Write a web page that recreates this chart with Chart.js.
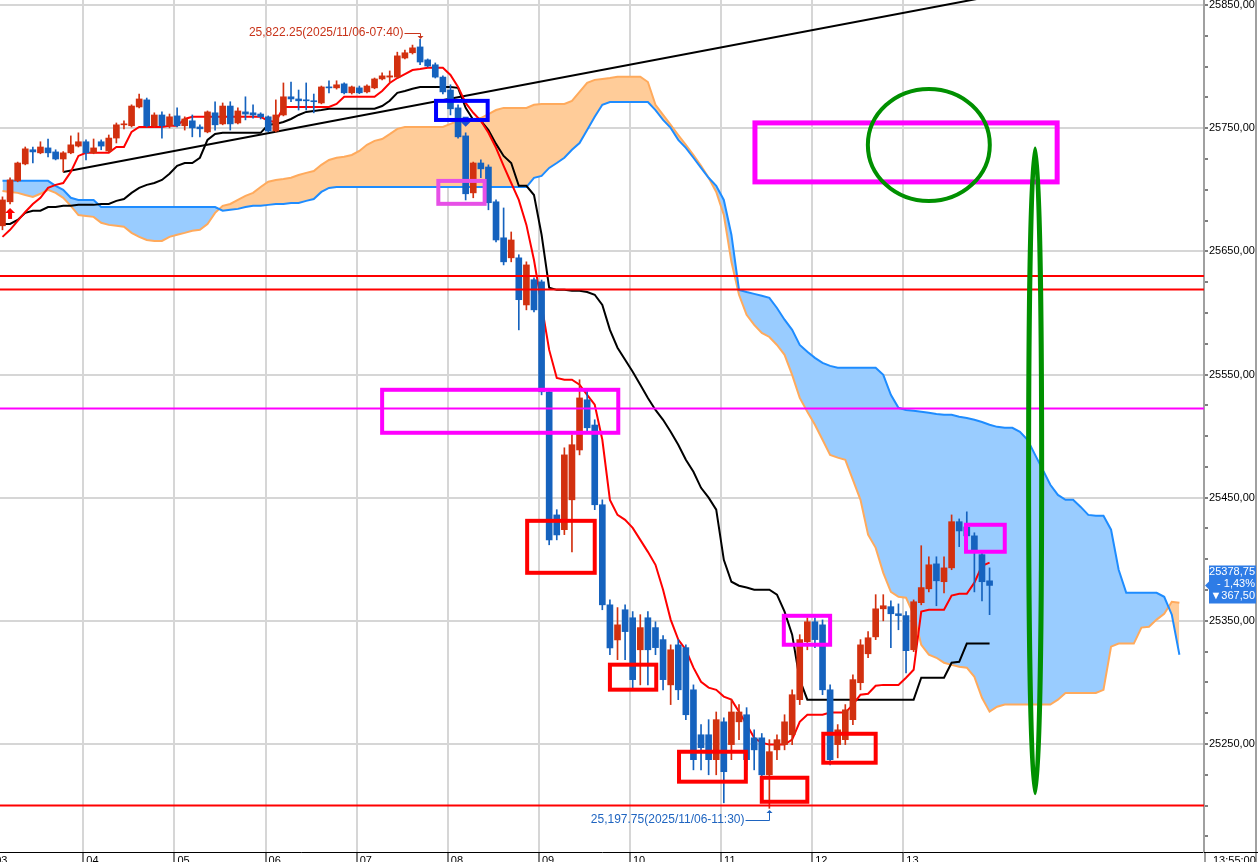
<!DOCTYPE html>
<html lang="ko">
<head>
<meta charset="utf-8">
<title>5분봉 일목균형표</title>
<script src="https://cdn.jsdelivr.net/npm/chart.js@4.4.1/dist/chart.umd.min.js"></script>
<style>
  html, body { margin: 0; padding: 0; background: #ffffff; overflow: hidden; }
  #box { position: relative; width: 1258px; height: 862px; }
</style>
</head>
<body>
<div id="box"><canvas id="chart" width="1258" height="862"></canvas></div>
<script>
// ==================== DATA ====================
// slot = 5-minute bar counted from 03:00 (slot 0). first bar on screen = 03:05
const firstSlot = 1;

// hour ticks of the time axis
const hourLabels = ["03", "04", "05", "06", "07", "08", "09", "10", "11", "12", "13"];
const hourSlots = [0, 12, 24, 36, 48, 60, 72, 84, 96, 108, 120];

// labelled prices on the right axis
const priceLabels = [25250, 25350, 25450, 25550, 25650, 25750, 25850];

// candles 03:05 -> 13:55
const opens = [25670.75,25690.25,25707.25,25721,25732.5,25730,25734,25730.75,25725,25730,
25735.5,25739,25730,25739,25731.5,25742,25752.75,25752,25767.25,25773,
25752,25760.75,25752,25760,25752,25756,25751,25747,25762.5,25753.5,
25768,25754.25,25763.25,25762.5,25761.5,25759.25,25747.75,25760.75,25775.5,25773.75,
25773,25772.25,25770.5,25783.5,25782.75,25786,25778.75,25782.75,25779.5,25782.75,
25790,25791.5,25791.5,25807,25811.25,25816,25805.5,25801.5,25791.5,25781,
25766.5,25743.75,25697.5,25721.75,25718.5,25690.25,25661,25644.75,25644.75,25606.5,
25627,25625.25,25536,25436,25424,25448.25,25488.75,25529.5,25509,25444.25,
25363,25334.5,25359,25352.5,25326.5,25352.5,25344.5,25334.75,25298,25330.5,
25328.25,25294,25257.5,25257.5,25237.25,25268,25249.5,25268,25273.75,25255,
25255,25225,25245.25,25249.5,25257.5,25286,25333,25349.25,25346.75,25294,
25249.5,25253.5,25269.75,25299.75,25323.25,25337,25359.75,25361.5,25355.75,25354.25,
25326.5,25364.75,25376,25396.25,25381.75,25393,25430.5,25426.25,25419,25403.75,
25382.5];

const highs = [25694.25,25709.75,25722.5,25734.75,25734.75,25739,25741.25,25732.5,25731,25743.75,
25746.25,25740.5,25741.25,25740.5,25744.5,25754.25,25756,25769,25777.75,25774.5,
25762.5,25763.25,25761.5,25766.5,25759.25,25760.75,25752.75,25764,25771.5,25770.5,
25771.5,25766.5,25775.5,25769,25762.5,25760,25773,25786.75,25787.5,25781,
25786.75,25777.75,25784.25,25788.5,25788.5,25786.75,25784.25,25784.25,25785.25,25790.75,
25795,25796.5,25811.75,25813.5,25817.5,25822.25,25806.25,25803,25792.5,25785.25,
25769,25746.25,25722.5,25724.25,25720.25,25691.75,25685.25,25665.75,25647.25,25641.5,
25628.5,25626.75,25537.5,25440.25,25490.5,25501,25545.75,25537.5,25513.25,25448.25,
25367,25360.75,25363,25357.5,25355,25357.5,25349.25,25338,25330.5,25334.75,
25330.5,25298,25265.75,25269.75,25276,25271.25,25286,25282,25279.5,25261.5,
25258.5,25253.5,25257.5,25273.75,25294,25338.75,25352.5,25352.5,25350.75,25298,
25265.75,25282,25306.25,25334.75,25341.25,25371.25,25371.25,25366.25,25363.75,25357.5,
25367,25411,25402,25402,25402,25436,25432.75,25438.5,25421.5,25406.25,
25393];

const lows = [25667.5,25688.5,25706.5,25720.25,25721.75,25729.25,25726.75,25724.25,25714.5,25729.25,
25734.75,25724.25,25729.25,25732.5,25730.75,25738,25749.5,25751,25766.5,25751,
25751,25742,25750.25,25751,25748.5,25743,25743,25746.25,25748.5,25752.75,
25748.5,25753.5,25756.75,25758.25,25757.5,25747,25747,25760,25771.5,25764.75,
25764.75,25762.5,25769.75,25778.75,25781.75,25777.75,25777.75,25778,25778.75,25782,
25789.25,25787.5,25790.75,25806.25,25810.25,25801.5,25799.75,25790.75,25777.75,25760.75,
25742,25691.75,25693.5,25709.75,25683.75,25657.75,25639,25641.5,25586.25,25602.5,
25600.75,25533.5,25411.75,25415.75,25420,25406,25484.75,25503.5,25440.25,25359,
25322.5,25318.5,25318.5,25294,25298,25298,25322.5,25294,25282,25286,
25269.75,25229,25229,25225,25225,25202.25,25237.25,25253.5,25229,25229,
25222.75,25197.75,25237.25,25245.25,25249.5,25282,25326.5,25328.25,25290,25233,
25238.75,25249.5,25265.75,25294,25320,25334.75,25350,25328.25,25342.75,25307.75,
25325,25363,25373.5,25362.25,25372.75,25391.5,25410.25,25415.75,25373.5,25366.25,
25355];

const closes = [25691.75,25708,25721.75,25733.25,25730.75,25734.75,25730,25725,25730,25736.5,
25739,25730,25734,25735.5,25742,25752.75,25753.5,25768,25773.75,25752,
25760.75,25752,25759.25,25752,25757.5,25750.25,25749.5,25763.25,25752.75,25768,
25753.5,25764,25761.5,25760.75,25759.25,25747.75,25760.75,25775.5,25773.75,25772.25,
25772.25,25771.5,25783.5,25782.75,25785.25,25778.75,25783.5,25778.75,25784.25,25790,
25792.5,25792.5,25808.75,25811.25,25815.25,25803.75,25800.5,25791.5,25779.5,25765.75,
25743,25696.75,25721.75,25717,25689.5,25659.25,25641.5,25659.25,25610.75,25639,
25602.5,25536,25415.75,25419.75,25484.75,25493,25531,25506.75,25444.25,25363,
25328,25346.75,25341.25,25302.25,25344.5,25326.5,25328.25,25302.25,25326.5,25294,
25273.75,25237.25,25247,25237.25,25269.75,25227.5,25276,25276,25237.25,25245.25,
25225,25243.75,25253.5,25268,25290,25334.75,25349.25,25334.75,25294,25237.25,
25261.5,25277.75,25302.25,25330.5,25336.25,25359.75,25362.25,25355.75,25354.25,25325.75,
25365.5,25377,25395.5,25382.5,25393,25430.5,25423,25419,25407.75,25381.75,
25378.75];

// 전환선 (red)
const tenkan = [25661.75,25667.5,25674.75,25682,25688.5,25693.5,25701.5,25704,25705.5,25714.5,
25727.5,25730,25730,25730,25730,25734.75,25734.75,25747,25751,25751,
25751,25751,25752,25752,25757.5,25759.25,25759.25,25759.25,25759.25,25759.25,
25759.25,25759.25,25759.25,25759.25,25759.25,25756,25755,25767.25,25767.25,25767.25,
25767.25,25767.25,25767.25,25767.25,25769.75,25775.5,25775.5,25775.5,25775.5,25775.5,
25780.25,25786.75,25790.75,25794,25797.25,25798,25799,25799,25799,25793.25,
25783.5,25770.5,25762.5,25756,25746.25,25734,25719.5,25705.5,25691.75,25671.5,
25643,25606.5,25570,25547.25,25545.75,25545.75,25541.75,25533.5,25525.5,25497,
25448.25,25436,25432,25425.5,25415.75,25406,25395.5,25375.25,25351,25334.75,
25326.5,25312,25300.5,25295.75,25294,25288.5,25286,25276.25,25265.75,25255,
25251,25249.5,25249.5,25249.5,25253.5,25268,25273.75,25273.75,25273.75,25275.5,
25275.5,25275.5,25282,25290,25290.75,25297.25,25298,25298,25298,25303.75,
25310.25,25357.5,25359,25359,25359,25370.5,25372,25372,25381,25394.75,
25397.25];

// 기준선 (black)
const kijun = [25672.25,25672.25,25675.5,25681.25,25683,25683,25686,25686,25687,25687,
25687.75,25687.75,25687.75,25688.5,25688.5,25691,25692.5,25697.5,25701.5,25704,
25705.5,25708,25713,25719.5,25721.75,25721.75,25726,25740.5,25745.25,25746.25,
25746.25,25746.25,25746.25,25746.25,25746.25,25752.75,25753.5,25755,25757.5,25760.75,
25763.25,25764,25764.75,25765.75,25765.75,25765.75,25765.75,25765.75,25765.75,25765.75,
25768,25772.25,25778.75,25780.25,25782,25783.5,25783.5,25783.5,25783.5,25783.5,
25782.75,25766.5,25756.75,25756,25748.5,25737.25,25727.5,25721.75,25703.25,25703.25,
25695.75,25663.5,25620.5,25618.75,25618.75,25618,25618,25617,25614.75,25606.5,
25586.25,25571.75,25562,25552.25,25541.75,25531,25521.25,25513.25,25503.5,25493,
25480.75,25471,25458,25450,25440.25,25399.5,25381.75,25378.5,25377,25375.25,
25375.25,25375.25,25371.25,25357.5,25338.75,25302.25,25286,25286,25286,25286,
25286,25286,25286,25286,25286,25286,25286,25286,25286,25286,
25286,25303.75,25303.75,25303.75,25303.75,25316,25316.75,25331.5,25331.5,25331.5,
25331.5];

// 선행스팬 (orange) 03:05 -> 16:05
const spanA = [25699,25698.25,25697.5,25695.75,25694.25,25696.75,25700,25697.5,25693.5,25687,
25679.5,25678.75,25678,25673.25,25671.5,25670.75,25670,25665,25661.75,25659.25,
25658.5,25658.5,25661.75,25663.5,25665,25666.75,25667.5,25672.25,25681.25,25687,
25688.5,25691.75,25695,25697.5,25702.25,25706.5,25708,25708.75,25709.75,25712,
25713.75,25715.25,25720.25,25724.25,25726,25726.75,25728.25,25731.5,25736.5,25739.75,
25741.25,25745.25,25749.5,25751,25751,25751,25751,25751,25751,25753.5,
25756,25756,25757.5,25758.25,25761.5,25764.75,25766.5,25766.5,25766.5,25766.5,
25769,25769.75,25769.75,25769.75,25769.75,25772.25,25779.5,25786.75,25789.25,25790,
25790.75,25791.75,25791.75,25791.75,25791.75,25787.5,25769,25760.75,25752.75,25744.5,
25736.5,25728.25,25719.5,25709.75,25698.25,25679.5,25641.5,25614.75,25598.5,25590.25,
25583.75,25580.5,25574,25566,25549.75,25531,25519.75,25509.25,25497,25484.75,
25482.5,25480.75,25464.5,25448.25,25420,25409.25,25389,25373.5,25369.5,25368.75,
25355,25330.5,25322.5,25320,25316,25314.25,25312.75,25312,25304.5,25287.5,
25276.25,25280.25,25282,25282,25282,25282,25282,25282,25282,25286,
25291.5,25291.5,25291.5,25291.5,25291.5,25294,25329,25331.5,25331.5,25331.5,
25344.5,25345.25,25351,25355.75,25365.5,25364.75];

// 선행스팬 (blue) 03:05 -> 16:05
const spanB = [25707.25,25707.25,25707.25,25707.25,25707.25,25707.25,25707.25,25703.25,25700,25693.5,
25691.75,25691.75,25691.75,25686,25686,25686,25686,25686,25686,25686,
25686,25686,25686,25686,25686,25686,25686,25686,25686,25683,
25683.75,25684.5,25686,25687,25687,25687.75,25688.5,25688.5,25689.25,25689.25,
25691,25692.5,25698.25,25701.5,25702.25,25702.25,25702.25,25702.25,25702.25,25702.25,
25702.25,25702.25,25702.25,25702.25,25702.25,25702.25,25702.25,25702.25,25702.25,25702.25,
25702.25,25702.25,25702.25,25702.25,25702.25,25702.25,25702.25,25702.25,25702.25,25702.25,
25709.75,25711.25,25717.75,25721.75,25726,25732.5,25738,25748.5,25759.25,25769,
25771.25,25771.25,25771.25,25771.25,25771.25,25771.25,25764.75,25756.75,25750.25,25740.5,
25734,25726,25717.75,25709.75,25703.25,25691.75,25663.5,25618.75,25617,25615.5,
25614,25612.25,25604,25594.5,25586.25,25574,25568.5,25563.5,25559.5,25557,
25555.5,25555.5,25555.5,25555.5,25555.5,25555.5,25549.75,25533.5,25523,25521.25,
25520.5,25519.75,25519,25518,25517.25,25517.25,25515.75,25514.75,25513.25,25511.5,
25509.25,25507.5,25506.75,25506.75,25503.5,25497,25484.75,25472.75,25460.5,25452.25,
25448.25,25448.25,25442.5,25436,25435.25,25435.25,25424,25391.5,25372.75,25372.75,
25372.75,25372.75,25372.75,25369.5,25355,25322.5];

// hand-drawn trend line: [slot, price]
const trendFrom = [9, 25714.5];
const trendTo = [140, 25867.4];

// horizontal levels
const redLevels = [25630, 25619, 25200];
const magentaLevels = [25522.5];

// last price box
const lastPrice = 25378.75;
const changePct = "- 1,43%";
const changePts = "▼367,50";

// ==================== STYLE ====================
const UP = "#D2300F";
const DOWN = "#1562BE";
const GRID = "#D6D6D6";
const FONT = '"Liberation Sans", Arial, sans-serif';
const gridLead = 0.356;       // hour grid line sits a bit left of its bar
const xMin = 0.674, xMax = 159.24;
const yMin = 25162.3, yMax = 25854.1;

Chart.defaults.font.family = FONT;
Chart.defaults.font.size = 11;
Chart.defaults.color = "#000";

const toSeries = (arr, start) => arr.map((v, i) => ({ x: start + i, y: v }));
const fmtPrice = v => v.toFixed(2).replace(".", ",");

const candleColors = opens.map((o, i) => closes[i] >= o ? UP : DOWN);
const wickData = lows.map((l, i) => ({ x: firstSlot + i, y: [l, highs[i]] }));
const bodyData = opens.map((o, i) => ({ x: firstSlot + i, y: [o, closes[i]] }));

const levelLine = (v, color, order) => ({
    type: "line",
    data: [{ x: -5, y: v }, { x: 170, y: v }],
    borderColor: color,
    borderWidth: 2,
    pointRadius: 0,
    order: order
});

// ==================== ANNOTATIONS (in slot / price units) ====================
const drawnBoxes = [
    { t: [100.1, 139.9], v: [25754.3, 25706.4], color: "#FF00FF", width: 5 },
    { t: [58.1, 64.9], v: [25772.2, 25756.7], color: "#0000FF", width: 4 },
    { t: [58.4, 64.5], v: [25707.2, 25688.6], color: "#E650E6", width: 4 },
    { t: [51.0, 82.1], v: [25537.6, 25502.7], color: "#FF00FF", width: 4 },
    { t: [70.1, 79.0], v: [25431.2, 25389.0], color: "#FF0000", width: 4 },
    { t: [81.0, 87.1], v: [25314.4, 25294.1], color: "#FF0000", width: 4 },
    { t: [90.1, 98.9], v: [25243.7, 25219.4], color: "#FF0000", width: 4 },
    { t: [101.0, 107.0], v: [25222.6, 25203.1], color: "#FF0000", width: 4 },
    { t: [109.1, 116.0], v: [25258.3, 25234.8], color: "#FF0000", width: 4 },
    { t: [103.9, 110.0], v: [25354.1, 25330.6], color: "#FF00FF", width: 4 },
    { t: [127.9, 133.0], v: [25428.0, 25406.1], color: "#FF00FF", width: 4 }
];

const drawnEllipses = [
    { t: 123.0, v: 25736.4, rt: 8.03, rv: 45.5, color: "#009000", width: 4 },
    { t: 137.0, v: 25471.8, rt: 0.86, rv: 261.4, color: "#009000", width: 5 }
];

// ==================== PLUGIN : DRAWINGS, NOTES, AXIS EXTRAS ====================
const extras = {
    id: "extras",
    afterDatasetsDraw(chart) {
        const { ctx, chartArea: a } = chart;
        const x = chart.scales.x, y = chart.scales.y;

        ctx.save();
        ctx.beginPath();
        ctx.rect(a.left, a.top, a.right - a.left, a.bottom - a.top);
        ctx.clip();

        // buy / sell markers
        const bx = x.getPixelForValue(2), by = y.getPixelForValue(lows[2 - firstSlot]) + 4;
        ctx.fillStyle = "#FF0000";
        ctx.beginPath();
        ctx.moveTo(bx, by); ctx.lineTo(bx + 5, by + 5); ctx.lineTo(bx - 5, by + 5); ctx.closePath(); ctx.fill();
        ctx.fillRect(bx - 2, by + 5, 4, 6);

        const sx = x.getPixelForValue(62), sy = y.getPixelForValue(highs[62 - firstSlot]) - 6;
        ctx.fillStyle = "#1A50D0";
        ctx.beginPath();
        ctx.moveTo(sx - 3, sy - 10); ctx.lineTo(sx + 3, sy - 10); ctx.lineTo(sx + 3, sy - 5);
        ctx.lineTo(sx + 5, sy - 5); ctx.lineTo(sx, sy); ctx.lineTo(sx - 5, sy - 5); ctx.lineTo(sx - 3, sy - 5);
        ctx.closePath(); ctx.fill();

        // hand-drawn boxes
        drawnBoxes.forEach(b => {
            const x0 = x.getPixelForValue(b.t[0]), x1 = x.getPixelForValue(b.t[1]);
            const y0 = y.getPixelForValue(b.v[0]), y1 = y.getPixelForValue(b.v[1]);
            ctx.strokeStyle = b.color;
            ctx.lineWidth = b.width;
            ctx.strokeRect(x0, y0, x1 - x0, y1 - y0);
        });

        // hand-drawn ellipses
        drawnEllipses.forEach(e => {
            const cx = x.getPixelForValue(e.t), cy = y.getPixelForValue(e.v);
            const rx = Math.abs(x.getPixelForValue(e.t + e.rt) - cx);
            const ry = Math.abs(y.getPixelForValue(e.v + e.rv) - cy);
            ctx.strokeStyle = e.color;
            ctx.lineWidth = e.width;
            ctx.beginPath();
            ctx.ellipse(cx, cy, rx, ry, 0, 0, Math.PI * 2);
            ctx.stroke();
        });

        // high / low notes
        ctx.font = "12px " + FONT;
        ctx.textBaseline = "middle";
        ctx.lineWidth = 1;

        const hx = Math.round(x.getPixelForValue(56)) + 0.5;
        const hy = Math.round(y.getPixelForValue(highs[56 - firstSlot]));
        ctx.fillStyle = ctx.strokeStyle = "#C8341A";
        ctx.textAlign = "right";
        ctx.fillText("25,822.25(2025/11/06-07:40)", hx - 17, hy - 6);
        ctx.beginPath();
        ctx.moveTo(hx - 16, hy - 5.5); ctx.lineTo(hx, hy - 5.5); ctx.lineTo(hx, hy - 3);
        ctx.stroke();
        ctx.beginPath();
        ctx.moveTo(hx - 3, hy - 3); ctx.lineTo(hx + 3, hy - 3); ctx.lineTo(hx, hy); ctx.closePath(); ctx.fill();

        const lx = Math.round(x.getPixelForValue(102)) + 0.5;
        const ly = Math.round(y.getPixelForValue(lows[102 - firstSlot]));
        ctx.fillStyle = ctx.strokeStyle = "#1E64C0";
        ctx.textAlign = "right";
        ctx.fillText("25,197.75(2025/11/06-11:30)", lx - 25, ly + 12);
        ctx.beginPath();
        ctx.moveTo(lx - 24, ly + 12.5); ctx.lineTo(lx, ly + 12.5); ctx.lineTo(lx, ly + 5);
        ctx.stroke();
        ctx.beginPath();
        ctx.moveTo(lx - 3, ly + 5); ctx.lineTo(lx + 3, ly + 5); ctx.lineTo(lx, ly + 2); ctx.closePath(); ctx.fill();

        ctx.restore();
    },
    afterDraw(chart) {
        const { ctx, chartArea: a } = chart;
        const x = chart.scales.x, y = chart.scales.y;
        ctx.save();

        // axis frame extensions
        ctx.strokeStyle = "#A0A0A0";
        ctx.lineWidth = 2;
        ctx.beginPath();
        ctx.moveTo(a.right + 1, a.bottom); ctx.lineTo(a.right + 1, 862);
        ctx.moveTo(1256, 0); ctx.lineTo(1256, 862);
        ctx.stroke();
        ctx.strokeStyle = "#000";
        ctx.lineWidth = 1;
        ctx.beginPath();
        ctx.moveTo(a.right, a.bottom + 0.5); ctx.lineTo(1258, a.bottom + 0.5);
        ctx.stroke();

        // hour labels
        ctx.fillStyle = "#000";
        ctx.font = "11px " + FONT;
        ctx.textAlign = "left";
        ctx.textBaseline = "top";
        hourSlots.forEach((s, i) => {
            const gx = x.getPixelForValue(s - gridLead);
            ctx.fillText(hourLabels[i], gx + 3, a.bottom + 3);
        });
        ctx.fillText("13:55:00", a.right + 9, a.bottom + 3);

        // last price tag
        const py = y.getPixelForValue(lastPrice);
        const top = py - 20, bot = py + 18, lft = a.right + 5, rgt = 1256;
        ctx.fillStyle = "#2E7CE6";
        ctx.beginPath();
        ctx.moveTo(lft, top); ctx.lineTo(rgt, top); ctx.lineTo(rgt, bot); ctx.lineTo(lft, bot);
        ctx.lineTo(lft, py + 4); ctx.lineTo(a.right + 1, py); ctx.lineTo(lft, py - 4); ctx.closePath();
        ctx.fill();
        ctx.fillStyle = "#FFFFFF";
        ctx.textAlign = "right";
        ctx.textBaseline = "middle";
        ctx.fillText(fmtPrice(lastPrice), rgt - 1, top + 7);
        ctx.fillText(changePct, rgt - 1, top + 19);
        ctx.fillText(changePts, rgt - 1, top + 31);

        ctx.restore();
    }
};

// ==================== CHART ====================
const chart = new Chart(document.getElementById("chart"), {
    type: "bar",
    data: {
        datasets: [
            // 0 bodies
            { type: "bar", data: bodyData, backgroundColor: candleColors, barThickness: 6,
              minBarLength: 1, grouped: false, borderWidth: 0, order: 4 },
            // 1 wicks
            { type: "bar", data: wickData, backgroundColor: candleColors, barThickness: 1,
              grouped: false, borderWidth: 0, order: 5 },
            // 2 전환선
            { type: "line", data: toSeries(tenkan, firstSlot), borderColor: "#FF0000",
              borderWidth: 2, pointRadius: 0, order: 6 },
            // 3 기준선
            { type: "line", data: toSeries(kijun, firstSlot), borderColor: "#000000",
              borderWidth: 2, pointRadius: 0, order: 7 },
            // 4 trend line
            { type: "line", data: [{ x: trendFrom[0], y: trendFrom[1] }, { x: trendTo[0], y: trendTo[1] }],
              borderColor: "#000000", borderWidth: 2, pointRadius: 0, order: 8 },
            // 5 선행스팬 blue
            { type: "line", data: toSeries(spanB, firstSlot), borderColor: "#1E8CFF",
              borderWidth: 2, pointRadius: 0, order: 9 },
            // 6 선행스팬 orange + cloud
            { type: "line", data: toSeries(spanA, firstSlot), borderColor: "#FFAA5C",
              borderWidth: 2, pointRadius: 0, order: 10,
              fill: { target: 5, above: "#FFCC99", below: "#99CCFF" } },
            ...redLevels.map(v => levelLine(v, "#FF0000", 2)),
            ...magentaLevels.map(v => levelLine(v, "#FF00FF", 2))
        ]
    },
    options: {
        responsive: false,
        animation: false,
        devicePixelRatio: 1,
        layout: { padding: 0 },
        plugins: {
            legend: { display: false },
            tooltip: { enabled: false }
        },
        scales: {
            x: {
                type: "linear",
                position: "bottom",
                min: xMin,
                max: xMax,
                offset: false,
                afterBuildTicks: s => { s.ticks = hourSlots.map(h => ({ value: h - gridLead })); },
                afterFit: s => { s.height = 10; s.paddingLeft = 0; s.paddingRight = 0; },
                ticks: { display: false, autoSkip: false },
                grid: { offset: false, color: GRID, lineWidth: 2, drawTicks: true, tickLength: 10,
                        tickColor: "#000", tickWidth: 1 },
                border: { display: true, color: "#000", width: 1 }
            },
            y: {
                type: "linear",
                position: "right",
                min: yMin,
                max: yMax,
                afterBuildTicks: s => {
                    const t = [];
                    for (let v = 25175; v <= 25850; v += 25) t.push({ value: v });
                    s.ticks = t;
                },
                afterFit: s => { s.width = 54; s.paddingTop = 0; s.paddingBottom = 0; },
                ticks: {
                    autoSkip: false,
                    padding: 1,
                    font: { size: 11 },
                    color: "#000",
                    callback: v => priceLabels.includes(v) ? fmtPrice(v) : ""
                },
                grid: {
                    color: c => (c.tick && priceLabels.includes(c.tick.value)) ? GRID : "rgba(0,0,0,0)",
                    lineWidth: 2,
                    drawTicks: true,
                    tickLength: 4,
                    tickColor: "#000",
                    tickWidth: 1
                },
                border: { display: true, color: "#A0A0A0", width: 2 }
            }
        }
    },
    plugins: [extras]
});
</script>
</body>
</html>
